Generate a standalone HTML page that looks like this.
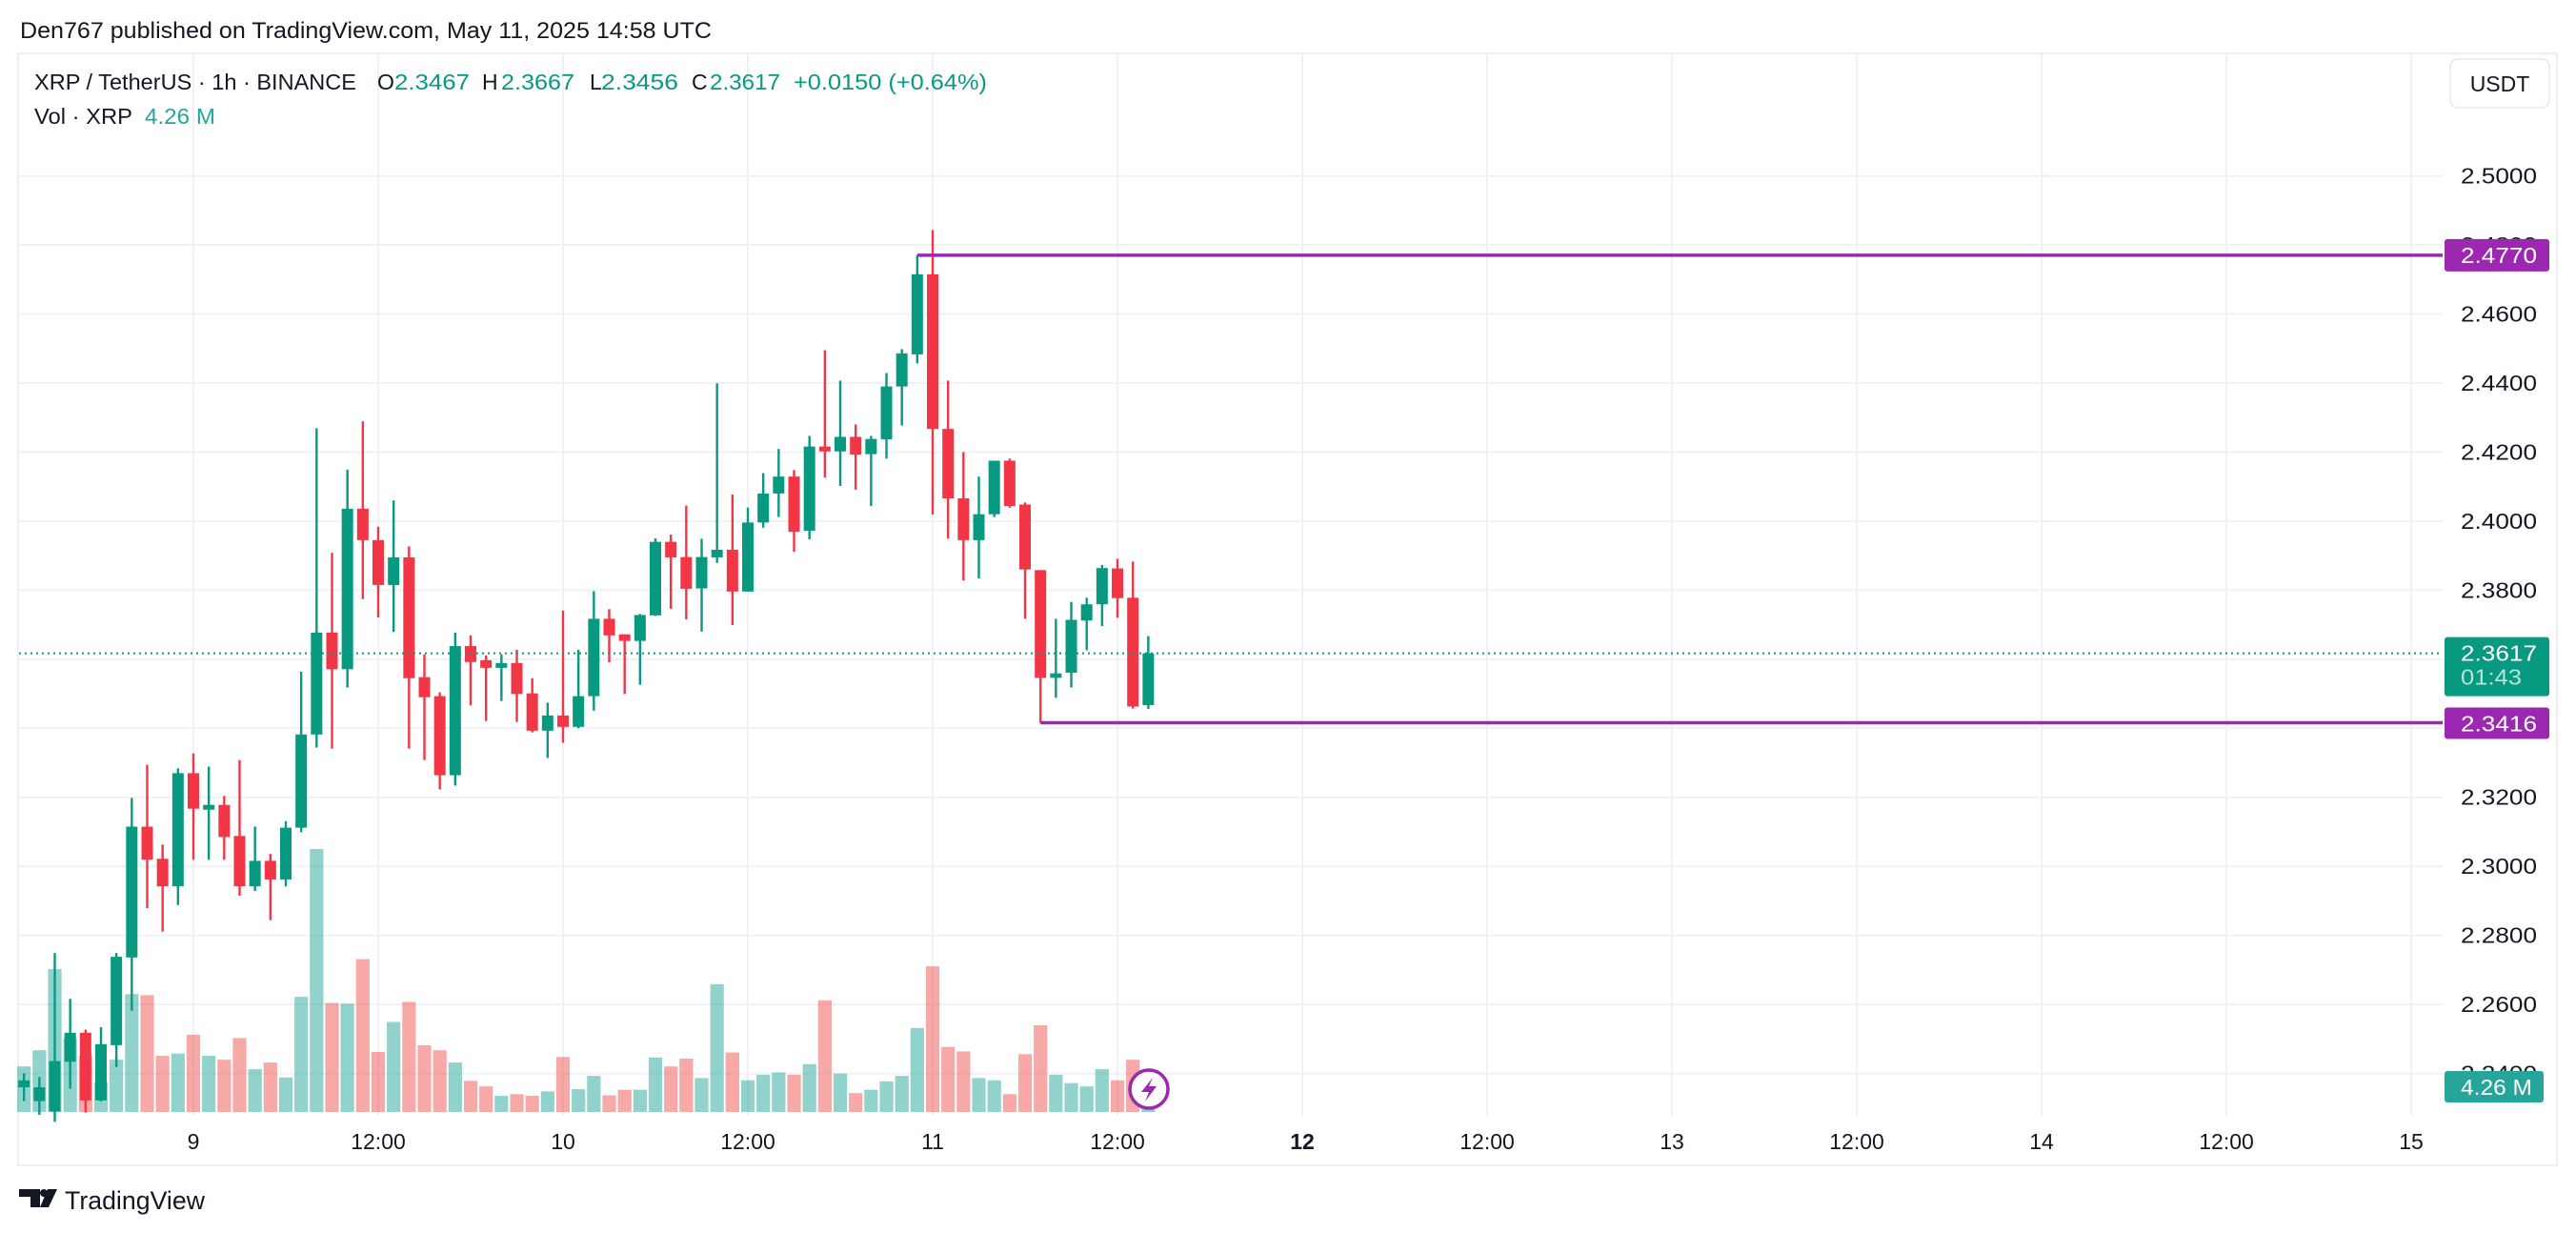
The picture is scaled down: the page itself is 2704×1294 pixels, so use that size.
<!DOCTYPE html>
<html><head><meta charset="utf-8">
<style>
html,body{margin:0;padding:0;background:#fff;}
svg{display:block;}
text{font-family:"Liberation Sans",sans-serif;}
</style></head>
<body>
<svg id="chart" width="2704" height="1294" viewBox="0 0 2704 1294" xmlns="http://www.w3.org/2000/svg">
  <rect x="0" y="0" width="2704" height="1294" fill="#ffffff"/>
  <text x="21" y="40" font-size="24" fill="#131722" textLength="726" lengthAdjust="spacingAndGlyphs">Den767 published on TradingView.com, May 11, 2025 14:58 UTC</text>
  <rect x="19" y="56" width="2665" height="1167" fill="none" stroke="#eeeff2" stroke-width="2"/>
  <g id="grid"></g>
  <g id="vols"></g>
  <g id="candles"></g>
  <g id="overlay"></g>
  <g id="axes"></g>

  <g font-size="23">
    <text x="36" y="94" fill="#131722" textLength="338" lengthAdjust="spacingAndGlyphs">XRP / TetherUS · 1h · BINANCE</text>
    <text x="396" y="94" fill="#131722">O</text>
    <text x="414" y="94" fill="#089981" textLength="79" lengthAdjust="spacingAndGlyphs">2.3467</text>
    <text x="506" y="94" fill="#131722">H</text>
    <text x="526" y="94" fill="#089981" textLength="77" lengthAdjust="spacingAndGlyphs">2.3667</text>
    <text x="619" y="94" fill="#131722">L</text>
    <text x="631" y="94" fill="#089981" textLength="81" lengthAdjust="spacingAndGlyphs">2.3456</text>
    <text x="726" y="94" fill="#131722">C</text>
    <text x="745" y="94" fill="#089981" textLength="74" lengthAdjust="spacingAndGlyphs">2.3617</text>
    <text x="833" y="94" fill="#089981" textLength="203" lengthAdjust="spacingAndGlyphs">+0.0150 (+0.64%)</text>
    <text x="36" y="130" fill="#131722" textLength="103" lengthAdjust="spacingAndGlyphs">Vol · XRP</text>
    <text x="152" y="130" fill="#26a69a" textLength="74" lengthAdjust="spacingAndGlyphs">4.26 M</text>
  </g>
  <g>
    <rect x="2572" y="62" width="104" height="51" rx="8" fill="#fff" stroke="#e6e8ee" stroke-width="1.5"/>
    <text x="2624" y="96" font-size="23" text-anchor="middle" fill="#131722">USDT</text>
  </g>
  <g>
    <path d="M20 1248 h22 v19 h-10 v-11 h-12 z" fill="#131722"/>
    <circle cx="46" cy="1252" r="4" fill="#131722"/>
    <path d="M50 1248 h10 l-9 19 h-9 z" fill="#131722"/>
    <text x="68" y="1269" font-size="27" fill="#131722" textLength="147" lengthAdjust="spacingAndGlyphs">TradingView</text>
  </g>
</svg>
<script>
// ---- data (hourly candles, first candle = May 8 13:00) ----
const startHour = -11; // hours relative to May 9 00:00
const opens  = [2.236,2.232,2.229,2.2434,2.2518,2.2322,2.2482,2.2736,2.3115,2.3022,2.2942,2.3270,2.3164,2.3178,2.3088,2.2942,2.3016,2.2962,2.3112,2.3382,2.3677,2.3571,2.4036,2.3945,2.3815,2.3895,2.3548,2.3493,2.3264,2.3638,2.3597,2.3575,2.3589,2.3501,2.3393,2.3437,2.3404,2.3493,2.3717,2.3672,2.3653,2.3727,2.3940,2.3896,2.3805,2.3895,2.3917,2.3796,2.3996,2.4080,2.4129,2.3972,2.4216,2.4202,2.4244,2.4194,2.4237,2.4390,2.4483,2.4715,2.4267,2.4066,2.3945,2.4020,2.4175,2.4048,2.3858,2.3546,2.3561,2.3712,2.3759,2.3863,2.3778,2.3467];
const highs  = [2.240,2.239,2.2749,2.2616,2.2527,2.2534,2.2749,2.3198,2.3294,2.3063,2.3284,2.3327,2.3289,2.3204,2.3308,2.3115,2.3036,2.3131,2.3564,2.4269,2.3908,2.4149,2.4289,2.3984,2.4060,2.3927,2.3614,2.3504,2.3677,2.3669,2.3611,2.3614,2.3627,2.3545,2.3474,2.3741,2.3627,2.3797,2.3745,2.3672,2.3731,2.3950,2.3961,2.4045,2.3949,2.4399,2.4077,2.4039,2.4139,2.4209,2.4148,2.4247,2.4495,2.4407,2.4280,2.4247,2.4429,2.4498,2.4770,2.4843,2.4407,2.4200,2.4129,2.4175,2.4181,2.4054,2.3858,2.3717,2.3766,2.3778,2.3873,2.3891,2.3883,2.3667];
const lows   = [2.232,2.228,2.226,2.2356,2.2287,2.2319,2.2419,2.2582,2.2879,2.2811,2.2888,2.3019,2.3019,2.3019,2.2915,2.2929,2.2844,2.2942,2.3099,2.3344,2.3341,2.3518,2.3774,2.3721,2.3679,2.3341,2.3308,2.3223,2.3234,2.3466,2.3421,2.3479,2.3418,2.3388,2.3314,2.3358,2.3400,2.3451,2.3591,2.3499,2.3526,2.3725,2.3746,2.3715,2.3680,2.3879,2.3699,2.3796,2.3981,2.4012,2.3911,2.3947,2.4126,2.4102,2.4091,2.4044,2.4181,2.4277,2.4457,2.4019,2.3949,2.3828,2.3834,2.4012,2.4039,2.3717,2.3416,2.3488,2.3518,2.3626,2.3696,2.3720,2.3457,2.3456];
const closes = [2.238,2.236,2.2436,2.2518,2.2322,2.2485,2.2738,2.3115,2.3019,2.2942,2.3270,2.3167,2.3178,2.3085,2.2942,2.3016,2.2962,2.3112,2.3382,2.3677,2.3571,2.4036,2.3945,2.3815,2.3895,2.3545,2.3490,2.3264,2.3638,2.3592,2.3575,2.3589,2.3499,2.3393,2.3437,2.3404,2.3493,2.3717,2.3669,2.3653,2.3728,2.3940,2.3895,2.3804,2.3896,2.3917,2.3796,2.3996,2.4080,2.4129,2.3969,2.4216,2.4202,2.4244,2.4193,2.4238,2.4390,2.4486,2.4715,2.4267,2.4066,2.3945,2.4020,2.4175,2.4044,2.3860,2.3546,2.3559,2.3714,2.3759,2.3864,2.3777,2.3463,2.3617];
const volumes = [8.2,11.1,25.7,13.2,10.1,5.4,9.4,21.2,21.0,10.1,10.5,13.9,10.1,9.4,13.3,7.7,8.9,6.2,20.7,47.3,19.6,19.5,27.5,10.8,16.2,19.8,12.0,11.1,8.9,5.6,4.6,2.9,3.2,2.9,3.7,9.9,4.1,6.5,3.0,4.0,4.0,9.8,8.2,9.6,6.1,23.0,10.7,5.7,6.7,7.1,6.7,8.6,20.1,6.9,3.4,4.0,5.5,6.5,15.1,26.2,11.7,10.9,6.1,5.7,3.2,10.4,15.6,6.7,5.2,4.6,7.7,5.7,9.4,4.26];
const priceTicks = [2.50,2.48,2.46,2.44,2.42,2.40,2.38,2.36,2.34,2.32,2.30,2.28,2.26,2.24];
const timeTickHours = [0,12,24,36,48,60,72,84,96,108,120,132,144];
const timeTickLabels = ["9","12:00","10","12:00","11","12:00","12","12:00","13","12:00","14","12:00","15"];
const levelHigh = 2.4770, levelLow = 2.3416, lastPrice = 2.3617;
const levelHighStart = 47, levelLowStart = 55;

// ---- axis functions ----
const X0 = 203.0, STEP = 16.167;
const xH = h => X0 + h * STEP;
const yP = p => 184.6 + (2.5 - p) * 3623;
const VOL_BASE = 1167, VOL_PX = 5.835;
const yV = v => VOL_BASE - v * VOL_PX;
const PLOT_L = 20, PLOT_R = 2564, PLOT_B = 1171;
const NS = "http://www.w3.org/2000/svg";
function mk(tag, attrs, parent){ const e=document.createElementNS(NS,tag); for(const k in attrs) e.setAttribute(k,attrs[k]); parent.appendChild(e); return e; }
const UP="#089981", DN="#F23645";

const grid=document.getElementById('grid');
priceTicks.forEach(p=>{
  const l=mk('line',{x1:PLOT_L,x2:PLOT_R,y1:yP(p),y2:yP(p),stroke:'#f0f1f4','stroke-width':2},grid);
  
  
});
timeTickHours.forEach(h=>{
  const l=mk('line',{x1:xH(h),x2:xH(h),y1:57,y2:PLOT_B,stroke:'#f0f1f4','stroke-width':2},grid);
  
  
});

const vg=document.getElementById('vols');
volumes.forEach((v,i)=>{
  const h=startHour+i, up=closes[i]>=opens[i];
  const r=mk('rect',{x:xH(h)-7.1,y:yV(v),width:14.2,height:v*VOL_PX,fill:up?'rgba(38,166,154,0.5)':'rgba(239,83,80,0.5)'},vg);
  
  
});

const cg=document.getElementById('candles');
opens.forEach((o,i)=>{
  const h=startHour+i, c=closes[i], col=c>=o?UP:DN, x=xH(h);
  const g=mk('g',{},cg);
  
  
  mk('rect',{x:x-1.2,y:yP(highs[i]),width:2.4,height:Math.max(1,yP(lows[i])-yP(highs[i])),fill:col},g);
  const top=yP(Math.max(o,c)), bot=yP(Math.min(o,c));
  mk('rect',{x:x-6,y:top,width:12,height:Math.max(2,bot-top),fill:col},g);
});

const ov=document.getElementById('overlay');
const dl=mk('line',{x1:PLOT_L,x2:PLOT_R,y1:yP(lastPrice),y2:yP(lastPrice),stroke:UP,'stroke-width':2,'stroke-dasharray':'2 4'},ov);


const lh=mk('line',{x1:xH(levelHighStart),x2:PLOT_R,y1:yP(levelHigh),y2:yP(levelHigh),stroke:'#9c27b0','stroke-width':3.5},ov);


const ll=mk('line',{x1:xH(levelLowStart),x2:PLOT_R,y1:yP(levelLow),y2:yP(levelLow),stroke:'#9c27b0','stroke-width':3.5},ov);


const ic=mk('g',{},ov);


mk('circle',{cx:1206,cy:1143,r:20,fill:'#fff',stroke:'#9c27b0','stroke-width':3.5},ic);
mk('path',{d:'M1210 1131 L1198 1146 H1206 L1202 1156 L1214 1140 H1206 Z',fill:'#9c27b0'},ic);

const ax=document.getElementById('axes');
priceTicks.forEach(p=>{
  const t=mk('text',{x:2583,y:yP(p)+8,'font-size':23,fill:'#131722',textLength:80,lengthAdjust:'spacingAndGlyphs'},ax);
  t.textContent=p.toFixed(4);
  
  
});
timeTickHours.forEach((h,i)=>{
  const t=mk('text',{x:xH(h),y:1206,'font-size':23,'text-anchor':'middle',fill:'#131722','font-weight':timeTickLabels[i]==='12'?'bold':'normal'},ax);
  t.textContent=timeTickLabels[i];
  
  
});
function tag(y1,y2,w,fill,lines,name,fg2,tw){
  const g=mk('g',{},ax);
  
  
  mk('rect',{x:2566,y:y1,width:w,height:y2-y1,rx:3,fill:fill},g);
  lines.forEach((s,k)=>{ const t=mk('text',{x:2583,y:y1+25+k*25,'font-size':23,fill:k?fg2:'#fff',textLength:k?64:tw,lengthAdjust:'spacingAndGlyphs'},g); t.textContent=s; });
}
tag(yP(levelHigh)-17,yP(levelHigh)+17,110,'#9c27b0',[levelHigh.toFixed(4)],'resistance-price-label','#fff',80);
tag(yP(lastPrice)-17,yP(lastPrice)+45,110,UP,[lastPrice.toFixed(4),'01:43'],'last-price-label','#b5e3d8',80);
tag(yP(levelLow)-16,yP(levelLow)+17,110,'#9c27b0',[levelLow.toFixed(4)],'support-price-label','#fff',80);
tag(1124,1157,104,'#26a69a',['4.26 M'],'volume-label','#fff',75);
</script>
</body></html>
